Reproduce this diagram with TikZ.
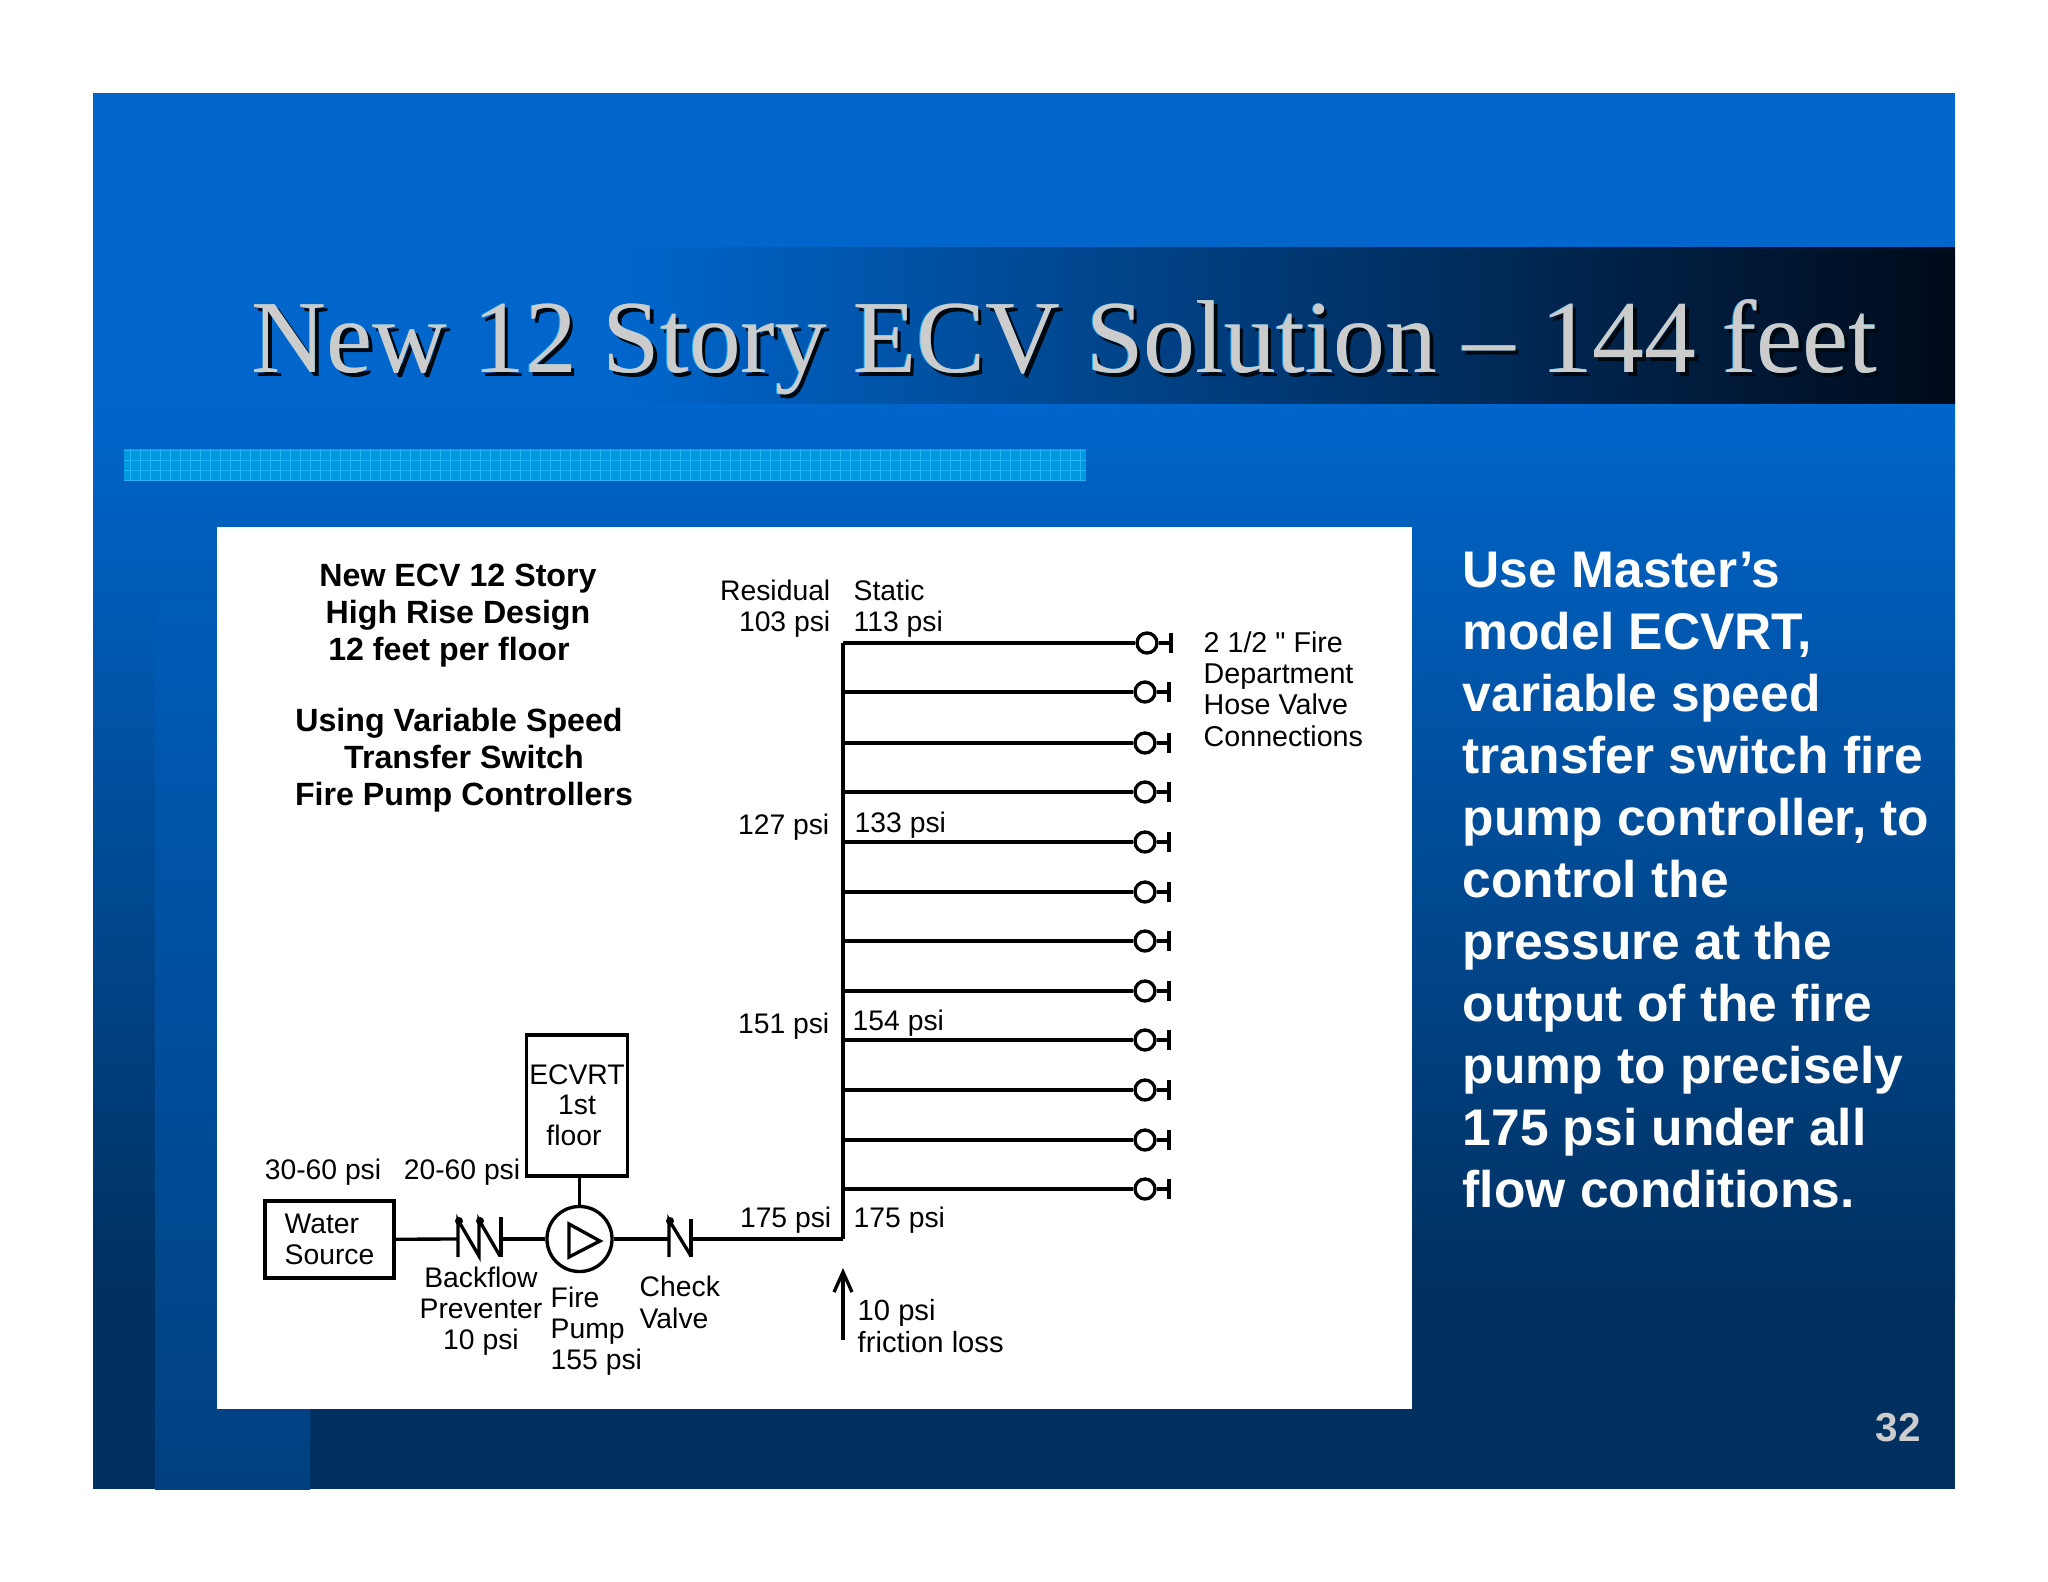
\documentclass[tikz,border=0pt]{standalone}
\usepackage{fontspec}
\setmainfont{Liberation Sans}
\newfontfamily\titlefont{Liberation Serif}
\newfontfamily\plainfont{Liberation Sans}
\usetikzlibrary{arrows.meta}
\usetikzlibrary{positioning}
\definecolor{slidetop}{HTML}{0066CC}
\definecolor{slidemid}{HTML}{004E9C}
\definecolor{slidelow}{HTML}{00305F}
\definecolor{bandtop}{HTML}{005BB7}
\definecolor{bandmid}{HTML}{004B90}
\definecolor{bandlow}{HTML}{004080}
\definecolor{titlemid}{HTML}{00407F}
\definecolor{titleend}{HTML}{000A1A}
\definecolor{stripe}{HTML}{0099E0}
\definecolor{stripeline}{HTML}{25B5F5}
\definecolor{titlegray}{HTML}{CCCCCC}
\tikzset{
  pipe/.style={line width=0.95pt, black},
  smalltext/.style={font=\fontsize{8.05}{8.9}\selectfont, inner sep=0pt, align=left},
  headtext/.style={font=\fontsize{9.15}{10.5}\selectfont\bfseries, inner sep=0pt, align=center},
  boxnode/.style={draw, pipe, fill=white, inner sep=0pt, font=\fontsize{8.05}{8.9}\selectfont},
  hosevalve/.style={draw, pipe, circle, fill=white, inner sep=0pt, minimum size=0.2cm},
  titletext/.style={font=\titlefont\fontsize{29.46}{32}\selectfont, inner sep=0pt, anchor=base west},
}
\begin{document}
\begin{tikzpicture}[x=0.01cm, y=-0.01cm, >={Straight Barb[length=0.2cm, width=0.18cm]}]
  \useasboundingbox (0,0) rectangle (2048,1582);
  % ===== Slide background =====
  \fill[slidetop] (93,93) rectangle (1955,401);
  \shade[top color=slidetop, middle color=slidemid, bottom color=slidelow] (93,400) rectangle (1955,1300);
  \fill[slidelow] (93,1299) rectangle (1955,1489);
  \shade[top color=bandtop, middle color=bandmid, bottom color=bandlow] (155,600) rectangle (310,1489);
  \shade[left color=slidetop, middle color=titlemid, right color=titleend] (620,248) rectangle (1955,403);

  % stripe under the title
  \fill[stripe] (124,449) rectangle (1086,481);
  \draw[stripeline, line width=0.25pt, step=0.1cm] (124,449) grid (1086,481);

  % title with its shadow
  \node[titletext, text=black!85!slidelow] (titleshadow) at (254.5,376.5) {New 12 Story ECV Solution – 144 feet};
  \node[titletext, text=stripeline] (titlelight) at (250.5,372.5) {New 12 Story ECV Solution – 144 feet};
  \node[titletext, text=titlegray] (title) at (251,373) {New 12 Story ECV Solution – 144 feet};

  % right hand text
  \node[anchor=west, inner sep=0pt, align=left, text=white, font=\fontsize{14.65}{17.64}\selectfont\bfseries] (bodytext) at (1462,880)
    {Use Master’s\\model ECVRT,\\variable speed\\transfer switch fire\\pump controller, to\\control the\\pressure at the\\output of the fire\\pump to precisely\\175 psi under all\\flow conditions.};
  \node[text=titlegray, inner sep=0pt, font=\fontsize{11.5}{13}\selectfont\bfseries] (pagenum) at (1898,1428) {32};

  % ===== White panel =====
  \fill[white] (217,527) rectangle (1412,1409);
  \node[headtext] (headone) at (458,615.5) {New ECV 12 Story\\High Rise Design\\12 feet per floor\hspace*{0.18cm}};
  \node[headtext] (headtwo) at (464,760.5) {Using Variable Speed\hspace*{0.1cm}\\Transfer Switch\hspace*{0.18cm}\\Fire Pump Controllers};

  % pressure labels
  \node[smalltext, anchor=east, align=right] (resid) at (831,609) {Residual\\103 psi};
  \node[smalltext, anchor=west] (static) at (853,609) {Static\\113 psi};
  \node[smalltext, anchor=east] (resida) at (830,827) {127 psi};
  \node[smalltext, anchor=west] (statica) at (854,825) {133 psi};
  \node[smalltext, anchor=east] (residb) at (830,1026) {151 psi};
  \node[smalltext, anchor=west] (staticb) at (852,1023) {154 psi};
  \node[smalltext, anchor=east] (residc) at (832,1220) {175 psi};
  \node[smalltext, anchor=west] (staticc) at (853,1220) {175 psi};
  \node[smalltext] (sourcepsi) at (323,1172) {30-60 psi};
  \node[smalltext] (suctionpsi) at (462,1172) {20-60 psi};
  \node[smalltext, anchor=west, font=\plainfont\fontsize{8.15}{8.9}\selectfont] (hoselabel) at (1203,689) {2 1/2 " Fire\\Department\\Hose Valve\\Connections};

  % ===== Water train =====
  \node[boxnode, minimum width=1.29cm, minimum height=0.77cm, align=left] (water) at (329.5,1239.5) {Water\\Source};
  \node[boxnode, minimum width=1.015cm, minimum height=1.41cm, align=center] (ecvrt) at (577,1105.5) {ECVRT\\[-0.02cm]1st\hspace*{0.24cm}\\floor\hspace*{0.06cm}};
  \node[draw, pipe, circle, inner sep=0pt, minimum size=0.65cm] (pump) at (579.5,1239) {};
  \coordinate (bfin) at (458,1239);
  \coordinate (bfout) at (501,1239);
  \coordinate (cvin) at (669,1239);
  \coordinate (cvout) at (691,1239);
  \coordinate (riserfoot) at (843,1239);

  \draw[pipe] (water) -- (bfin);
  \draw[pipe] (bfout) -- (pump);
  \draw[pipe] (pump) -- (cvin);
  \draw[pipe] (cvout) -- (riserfoot);
  \draw[pipe] (ecvrt.south -| pump.north) -- (pump.north);

  % pump triangle
  \draw[pipe] (569,1224) -- (600,1241) -- (569,1257) -- cycle;

  % backflow preventer
  \draw[pipe] (458,1257) -- (458,1220) -- (479,1256) -- (479,1220) -- (500,1256);
  \draw[pipe] (501,1257) -- (501,1217);
  \fill (459,1221) circle (4);
  \fill (480,1221) circle (4);

  % check valve
  \draw[pipe] (669,1257) -- (669,1220) -- (691,1256);
  \draw[pipe] (691,1257) -- (691,1219);
  \fill (670,1221) circle (4);

  \node[smalltext, align=center] (bflabel) at (481,1311) {Backflow\\Preventer\\10 psi};
  \node[smalltext, anchor=west] (pumplabel) at (550,1331) {Fire\\Pump\\155 psi};
  \node[smalltext, anchor=west] (cvlabel) at (639,1302.5) {Check\\Valve};

  % ===== Riser and hose valves =====
  \coordinate (risertop) at (843,643);
  \draw[pipe] (riserfoot) -- (risertop);
  \foreach \i/\yy/\xx in {1/643/1147, 2/692/1145, 3/743/1145, 4/792/1145, 5/842/1145, 6/892/1145, 7/941/1145, 8/991/1145, 9/1040/1145, 10/1090/1145, 11/1140/1145, 12/1189/1145}{
    \coordinate (riser\i) at (843,\yy);
    \node[hosevalve] (valve\i) at (\xx,\yy) {};
    \coordinate (cap\i) at (\xx+24,\yy);
    \draw[pipe] (riser\i) -- (valve\i);
    \draw[pipe] (valve\i) -- (cap\i);
    \draw[pipe] (cap\i) ++(0,-10) -- ++(0,20);
  }

  % friction arrow
  \coordinate (frictionlow) at (843,1340);
  \coordinate (frictionhigh) at (843,1268);
  \draw[pipe, ->] (frictionlow) -- (frictionhigh);
  \node[smalltext, anchor=west, font=\fontsize{8.3}{8.9}\selectfont] (frictionlabel) at (857,1326) {10 psi\\friction loss};
\end{tikzpicture}
\end{document}
